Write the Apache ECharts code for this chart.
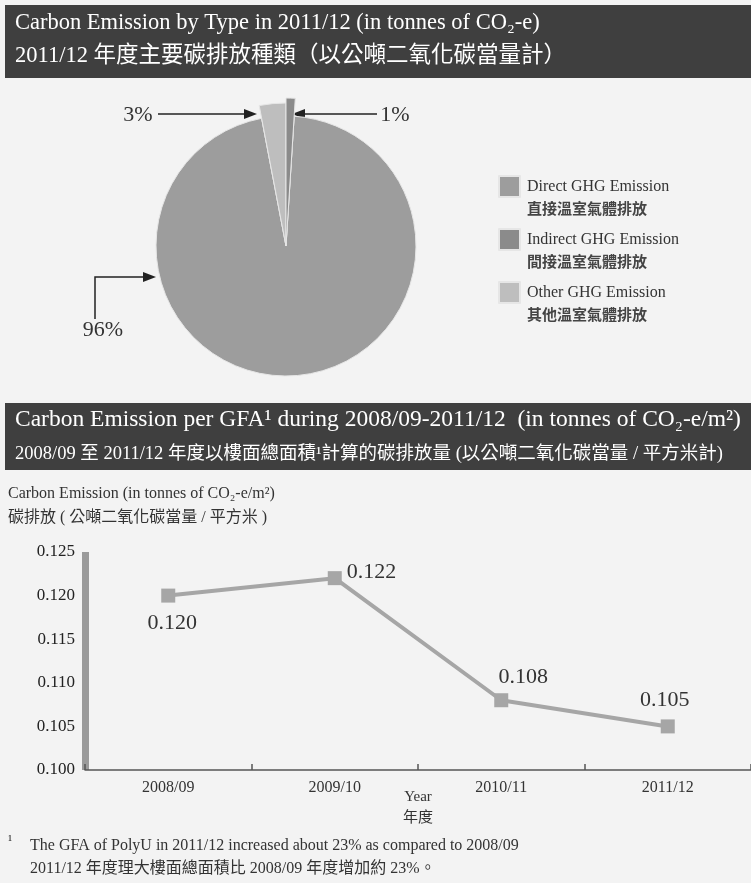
<!DOCTYPE html>
<html>
<head>
<meta charset="utf-8">
<title>Carbon Emission</title>
<script src="https://cdn.jsdelivr.net/npm/echarts@6/dist/echarts.min.js"></script>
<style>
  html, body { margin: 0; padding: 0; background: #f3f3f3; }
  #chart { width: 751px; height: 883px; }
</style>
</head>
<body>
<div id="chart"></div>
<script>
// Fonts
const SERIF = '"Liberation Serif", "DejaVu Serif", "Noto Sans CJK TC", serif';
const CJK = '"Noto Sans CJK TC", "Liberation Serif", sans-serif';

// Carbon emission by type, 2011/12 (share, %)
const typeNames = ['Direct GHG Emission', 'Indirect GHG Emission', 'Other GHG Emission'];
const typeNamesZh = ['直接溫室氣體排放', '間接溫室氣體排放', '其他溫室氣體排放'];
const typeShares = [96, 1, 3];

// Carbon emission per GFA (tonnes CO2-e / m2)
const years = ['2008/09', '2009/10', '2010/11', '2011/12'];
const perGfa = [0.120, 0.122, 0.108, 0.105];

// Value axis range
const yMin = 0.100;
const yMax = 0.125;
const yStep = 0.005;

// Styling
const sliceColors = ['#9d9d9d', '#8b8b8b', '#bebebe'];
const slicePopRadius = [130, 148, 143];           // outer radius per slice
const pctLabelPos = [[103, 330], [395, 115], [138, 115]];
const pointLabelStyle = [
  { position: 'bottom', offset: [4, 5] },
  { position: 'right', offset: [0, -6] },
  { position: 'top', offset: [22, 0] },
  { position: 'top', offset: [-3, -3] }
];
const pieCenter = [286, 246];

function pieData(onlyIndex) {
  return typeNames.map((name, i) => {
    const visible = onlyIndex === undefined || onlyIndex === i;
    return {
      name: name,
      value: typeShares[i],
      itemStyle: visible
        ? { color: sliceColors[i] }
        : { color: 'rgba(0,0,0,0)', borderWidth: 0 }
    };
  });
}

function popSeries(i) {
  return {
    type: 'pie',
    center: pieCenter,
    radius: [0, slicePopRadius[i]],
    clockwise: false,
    startAngle: 90 + typeShares[2] * 3.6,
    silent: true,
    label: { show: false },
    labelLine: { show: false },
    itemStyle: { borderColor: '#e6e6e6', borderWidth: 1 },
    emphasis: { disabled: true },
    data: pieData(i)
  };
}

const chart = echarts.init(document.getElementById('chart'), null, { renderer: 'canvas' });

const arrowColor = '#222';
function arrowHead(tip, dir) {
  // dir: 1 → pointing right, -1 → pointing left
  const [x, y] = tip;
  return {
    type: 'polygon',
    shape: { points: [[x, y], [x - dir * 13, y - 5], [x - dir * 13, y + 5]] },
    style: { fill: arrowColor }
  };
}

const option = {
  backgroundColor: '#f3f3f3',
  animation: false,
  title: [
    {
      text: '{a|Carbon Emission by Type in 2011/12 (in tonnes of CO₂-e)}\n{a|2011/12 年度主要碳排放種類（以公噸二氧化碳當量計）}',
      left: 15, top: 7, padding: 0,
      textStyle: {
        fontWeight: 'normal',
        rich: { a: { color: '#ffffff', fontFamily: SERIF, fontSize: 22.5, fontWeight: 'normal', lineHeight: 33 } }
      }
    },
    {
      text: '{a|Carbon Emission per GFA¹ during 2008/09-2011/12  (in tonnes of CO₂-e/m²)}\n{b|2008/09 至 2011/12 年度以樓面總面積¹計算的碳排放量 (以公噸二氧化碳當量 / 平方米計)}',
      left: 15, top: 403, padding: 0,
      textStyle: {
        fontWeight: 'normal',
        rich: {
          a: { color: '#ffffff', fontFamily: SERIF, fontSize: 23.5, fontWeight: 'normal', lineHeight: 34 },
          b: { color: '#ffffff', fontFamily: SERIF, fontSize: 18.5, fontWeight: 'normal', lineHeight: 34 }
        }
      }
    },
    {
      text: 'Carbon Emission (in tonnes of CO₂-e/m²)\n碳排放 ( 公噸二氧化碳當量 / 平方米 )',
      left: 8, top: 482, padding: 0,
      textStyle: { color: '#333', fontFamily: SERIF, fontSize: 16, fontWeight: 'normal', lineHeight: 24 }
    },
    {
      text: '¹',
      left: 8, top: 834, padding: 0,
      textStyle: { color: '#333', fontFamily: SERIF, fontSize: 14, fontWeight: 'normal' }
    },
    {
      text: 'The GFA of PolyU in 2011/12 increased about 23% as compared to 2008/09\n2011/12 年度理大樓面總面積比 2008/09 年度增加約 23%。',
      left: 30, top: 834, padding: 0,
      textStyle: { color: '#333', fontFamily: SERIF, fontSize: 16, fontWeight: 'normal', lineHeight: 23 }
    }
  ],
  graphic: [
    { type: 'rect', z: -1, shape: { x: 5, y: 5, width: 746, height: 73 }, style: { fill: '#3f3f3f' } },
    { type: 'rect', z: -1, shape: { x: 5, y: 403, width: 746, height: 67 }, style: { fill: '#3f3f3f' } },
    // pointer for the 3% slice
    { type: 'line', shape: { x1: 158, y1: 114, x2: 246, y2: 114 }, style: { stroke: arrowColor, lineWidth: 1.5 } },
    arrowHead([257, 114], 1),
    // pointer for the 1% slice
    { type: 'line', shape: { x1: 377, y1: 114, x2: 302, y2: 114 }, style: { stroke: arrowColor, lineWidth: 1.5 } },
    arrowHead([292, 114], -1),
    // pointer for the 96% slice
    { type: 'polyline', shape: { points: [[95, 319], [95, 277], [145, 277]] }, style: { stroke: arrowColor, lineWidth: 1.5, fill: null } },
    arrowHead([156, 277], 1)
  ],
  legend: {
    orient: 'vertical',
    left: 498,
    top: 175,
    padding: 0,
    itemGap: 12,
    itemWidth: 21,
    itemHeight: 21,
    icon: 'rect',
    selectedMode: false,
    data: typeNames,
    formatter: name => '{en|' + name + '}\n{zh|' + typeNamesZh[typeNames.indexOf(name)] + '}',
    textStyle: {
      padding: [22, 0, 0, 2],
      rich: {
        en: { fontFamily: SERIF, fontSize: 16, color: '#333', lineHeight: 22 },
        zh: { fontFamily: CJK, fontSize: 15, fontWeight: 'bold', color: '#444', lineHeight: 22 }
      }
    }
  },
  grid: { left: 85, right: -8, top: 552, bottom: 113, containLabel: false },
  xAxis: {
    type: 'category',
    data: years,
    boundaryGap: true,
    name: 'Year\n年度',
    nameLocation: 'middle',
    nameGap: 17,
    nameMoveOverlap: false,
    nameTextStyle: { fontFamily: SERIF, fontSize: 15, color: '#333', lineHeight: 21, verticalAlign: 'top' },
    axisLine: { lineStyle: { color: '#555', width: 1.5 } },
    axisTick: { show: true, inside: true, length: 6, lineStyle: { color: '#555', width: 1.5 } },
    axisLabel: { fontFamily: SERIF, fontSize: 16, color: '#333', margin: 10 }
  },
  yAxis: {
    type: 'value',
    min: yMin,
    max: yMax,
    interval: yStep,
    axisLine: { show: true, lineStyle: { color: '#9a9a9a', width: 7, cap: 'butt' } },
    axisTick: { show: false },
    splitLine: { show: false },
    axisLabel: {
      fontFamily: SERIF, fontSize: 17, color: '#222', margin: 10,
      formatter: v => v.toFixed(3)
    }
  },
  series: [
    {
      type: 'pie',
      center: pieCenter,
      radius: [0, slicePopRadius[0]],
      clockwise: false,
      startAngle: 90 + typeShares[2] * 3.6,
      avoidLabelOverlap: false,
      itemStyle: { borderColor: '#e6e6e6', borderWidth: 1 },
      emphasis: { disabled: true },
      label: {
        show: true,
        position: 'outside',
        formatter: p => Math.round(p.percent) + '%',
        fontFamily: SERIF, fontSize: 22, color: '#333'
      },
      labelLine: { show: false },
      labelLayout: p => {
        const pos = pctLabelPos[p.dataIndex];
        return { x: pos[0], y: pos[1], align: 'center', verticalAlign: 'middle' };
      },
      data: pieData()
    },
    popSeries(2),
    popSeries(1),
    {
      type: 'line',
      data: perGfa.map((v, i) => ({ value: v, label: pointLabelStyle[i] })),
      symbol: 'rect',
      symbolSize: 14,
      lineStyle: { color: '#a6a6a6', width: 4 },
      itemStyle: { color: '#a6a6a6' },
      emphasis: { disabled: true },
      label: {
        show: true,
        distance: 5,
        formatter: p => Number(p.value).toFixed(3),
        fontFamily: SERIF, fontSize: 22, color: '#333'
      }
    }
  ]
};

chart.setOption(option);
</script>
</body>
</html>
